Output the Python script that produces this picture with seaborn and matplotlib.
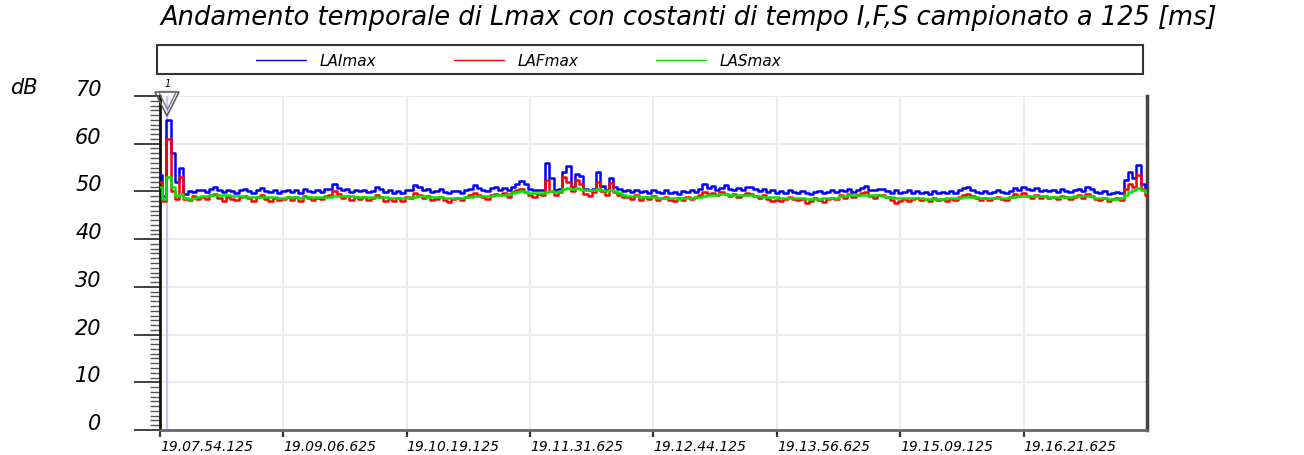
import numpy as np
import pandas as pd
import matplotlib
matplotlib.use("Agg")
import matplotlib.pyplot as plt
import matplotlib.transforms as mtransforms
from matplotlib.lines import Line2D
from matplotlib.patches import Rectangle
from matplotlib.ticker import MultipleLocator
import seaborn as sns

# sampling every 2.5 s, starting at 19.07.54.125
t_step = 2.5
cursor_t = 4.4

lai_max = [
    53.5, 49.0, 65.0, 58.0, 52.0, 55.0, 49.5, 50.0, 49.8, 50.2,
    50.3, 49.9, 50.6, 50.9, 50.2, 49.8, 50.4, 50.0, 49.7, 50.3,
    50.6, 50.1, 49.7, 50.4, 50.8, 50.0, 49.8, 50.3, 49.6, 50.0,
    50.4, 49.9, 50.2, 49.7, 50.5, 50.1, 49.8, 50.3, 49.9, 50.6,
    50.5, 51.6, 50.8, 50.2, 50.6, 49.9, 50.4, 50.0, 50.3, 49.8,
    50.1, 50.9, 50.6, 49.8, 50.2, 49.7, 50.0, 49.6, 50.4, 50.2,
    51.3, 50.9, 50.2, 50.5, 49.8, 50.1, 50.6, 49.9, 49.7, 50.0,
    50.0, 49.7, 50.3, 50.6, 51.3, 50.8, 50.4, 50.1, 50.7, 50.9,
    50.4, 50.8, 50.3, 51.0, 51.5, 52.2, 51.5, 50.6, 50.2, 50.4,
    50.3, 56.0, 52.8, 50.4, 50.6, 54.0, 55.3, 51.0, 53.6, 53.2,
    50.5, 50.2, 50.6, 54.0, 51.2, 50.4, 52.8, 51.0, 50.6, 50.0,
    50.2, 49.8, 50.4, 49.9, 50.1, 49.6, 50.3, 49.8, 49.7, 50.2,
    49.7, 49.9, 49.5, 50.1, 49.8, 50.2, 49.9, 50.6, 51.5, 50.8,
    51.2, 50.4, 50.8, 51.3, 50.5, 50.2, 50.7, 50.3, 50.9, 51.0,
    50.5, 50.0, 50.6, 49.8, 50.2, 49.6, 50.1, 49.7, 50.3, 49.9,
    49.6, 50.0, 49.7, 49.5, 49.9, 50.1, 49.6, 49.8, 50.2, 49.9,
    50.4, 50.0, 50.6, 49.9, 50.3, 50.8, 51.1, 50.4, 50.2, 50.5,
    50.6, 50.1, 49.7, 50.4, 49.6, 49.8, 50.2, 49.7, 50.0, 49.6,
    49.8, 49.5, 50.0, 49.6, 49.9, 49.7, 50.1, 49.6, 50.3, 50.8,
    50.9, 50.4, 49.9, 49.6, 50.0, 49.7, 49.9, 50.2, 49.8, 49.6,
    50.0, 50.8, 50.3, 50.9, 50.5, 50.2, 50.7, 50.0, 50.4, 50.1,
    50.3, 49.9, 50.5, 50.1, 49.8, 50.2, 50.6, 50.0, 50.9, 50.5,
    49.8, 49.6, 50.1, 49.5, 49.7, 49.9, 49.6, 52.5, 54.0, 52.8,
    55.6, 51.5, 50.2,
]

laf_max = [
    52.0, 48.0, 61.0, 50.0, 48.5, 53.0, 48.5, 48.2, 49.0, 48.4,
    48.9, 48.4, 49.2, 49.5, 48.6, 48.1, 48.9, 48.5, 48.2, 48.8,
    49.0, 48.6, 48.1, 48.9, 49.3, 48.4, 48.0, 48.7, 48.2, 48.5,
    48.8, 48.3, 48.9, 48.0, 49.1, 48.6, 48.2, 48.7, 48.4, 49.0,
    49.2, 50.0, 49.4, 48.6, 49.0, 48.3, 48.8, 48.4, 48.9, 48.2,
    48.6, 49.3, 48.9, 47.9, 48.5, 48.1, 48.6, 48.0, 48.8, 48.7,
    49.6, 49.3, 48.7, 49.0, 48.3, 48.5, 48.9, 48.2, 47.8, 48.4,
    48.6, 48.2, 48.9, 49.2, 49.7, 49.3, 48.8, 48.5, 49.2, 49.4,
    49.2, 49.6, 48.8, 49.8, 50.2, 50.5, 49.8, 49.2, 48.9, 49.4,
    49.2, 52.4, 50.0, 49.3, 49.8, 53.0, 52.0, 50.0, 52.4, 51.5,
    49.4, 49.0, 49.8, 52.0, 50.0, 49.3, 51.7, 49.8, 49.2, 48.8,
    48.8, 48.5, 49.3, 48.2, 48.9, 48.4, 49.0, 48.3, 48.6, 48.8,
    48.3, 47.9, 48.6, 48.2, 48.8, 48.4, 48.9, 49.3, 49.8, 49.5,
    49.6, 49.2, 49.8, 49.5, 49.0, 49.4, 48.9, 49.3, 49.6, 49.4,
    49.0, 48.6, 49.2, 48.4, 48.0, 48.3, 47.9, 48.5, 48.8, 48.4,
    48.2, 48.5, 47.6, 48.0, 48.6, 48.3, 47.8, 48.4, 48.7, 48.5,
    49.2, 48.7, 49.4, 48.8, 49.3, 49.6, 49.8, 49.0, 48.6, 49.2,
    49.3, 48.8, 48.2, 47.6, 48.0, 48.5, 48.1, 48.4, 48.7, 48.2,
    48.4, 48.0, 48.6, 48.2, 48.5, 47.9, 48.4, 48.3, 48.8, 49.3,
    49.4, 49.0, 48.6, 48.2, 48.7, 48.3, 48.6, 48.9, 48.4, 48.3,
    48.8, 49.4, 49.0, 49.6, 49.1, 48.7, 49.3, 48.6, 49.0, 48.7,
    48.9, 48.5, 49.1, 48.8, 48.4, 48.9, 49.2, 48.7, 49.4, 49.0,
    48.5, 48.2, 48.7, 48.1, 48.4, 48.6, 48.3, 50.5, 51.5, 51.0,
    53.4, 50.5, 49.2,
]

las_max = [
    51.0, 48.5, 53.0, 51.0, 49.0, 49.5, 48.6, 48.4, 48.7, 48.8,
    49.0, 49.1, 49.2, 49.3, 49.3, 49.2, 49.2, 49.1, 49.0, 49.0,
    48.9, 48.9, 48.8, 48.8, 48.9, 48.9, 48.8, 48.8, 48.7, 48.7,
    48.8, 48.8, 48.8, 48.7, 48.8, 48.8, 48.8, 48.8, 48.8, 48.9,
    48.9, 49.0, 49.1, 49.1, 49.0, 49.0, 48.9, 48.9, 48.9, 48.8,
    48.8, 48.8, 48.9, 48.8, 48.7, 48.7, 48.7, 48.6, 48.7, 48.8,
    48.9, 49.0, 49.0, 48.9, 48.9, 48.8, 48.8, 48.7, 48.6, 48.6,
    48.7, 48.7, 48.8, 48.9, 49.0, 49.1, 49.1, 49.0, 49.1, 49.2,
    49.2, 49.3, 49.4, 49.6, 49.8, 50.0, 49.9, 49.7, 49.6, 49.6,
    49.6, 49.9, 50.0, 49.8, 50.1, 50.5, 50.8, 50.6, 50.7, 50.5,
    50.4, 50.2, 50.3, 50.5, 50.3, 50.1, 50.2, 50.0, 49.6, 49.3,
    49.1, 49.0, 49.0, 48.9, 48.9, 48.8, 48.8, 48.7, 48.7, 48.7,
    48.6, 48.6, 48.5, 48.6, 48.7, 48.7, 48.8, 48.9, 49.1, 49.2,
    49.3, 49.3, 49.4, 49.4, 49.3, 49.3, 49.2, 49.2, 49.2, 49.2,
    49.0, 49.0, 48.9, 48.9, 48.8, 48.8, 48.7, 48.7, 48.7, 48.7,
    48.6, 48.6, 48.5, 48.5, 48.5, 48.5, 48.6, 48.6, 48.7, 48.7,
    49.1, 49.1, 49.2, 49.2, 49.3, 49.3, 49.3, 49.3, 49.2, 49.2,
    49.0, 48.9, 48.8, 48.7, 48.6, 48.6, 48.6, 48.6, 48.6, 48.6,
    48.5, 48.5, 48.5, 48.5, 48.5, 48.6, 48.6, 48.6, 48.7, 48.8,
    48.9, 48.9, 48.8, 48.7, 48.7, 48.7, 48.7, 48.7, 48.7, 48.7,
    48.8, 48.9, 49.0, 49.1, 49.1, 49.1, 49.1, 49.0, 49.0, 48.9,
    48.9, 48.9, 48.9, 48.9, 48.9, 49.0, 49.0, 49.0, 49.1, 49.1,
    48.7, 48.6, 48.6, 48.5, 48.5, 48.5, 48.6, 49.2, 49.8, 50.2,
    50.7, 50.3, 49.9,
]

series_names = ["LAImax", "LAFmax", "LASmax"]
series_colors = ["#0000ff", "#ff0000", "#00e600"]

x_ticks = [0, 72.5, 145, 217.5, 290, 362.5, 435, 507.5]
x_labels = ["19.07.54.125", "19.09.06.625", "19.10.19.125", "19.11.31.625",
            "19.12.44.125", "19.13.56.625", "19.15.09.125", "19.16.21.625"]
y_ticks = [0, 10, 20, 30, 40, 50, 60, 70]

title = "Andamento temporale di Lmax con costanti di tempo I,F,S campionato a 125 [ms]"

df = pd.DataFrame({
    "t": np.arange(len(lai_max)) * t_step,
    "LAImax": lai_max,
    "LAFmax": laf_max,
    "LASmax": las_max,
})

sns.set_style("white")
plt.rcParams["font.family"] = ["DejaVu Sans"]
plt.rcParams["text.color"] = "black"
plt.rcParams["xtick.labelcolor"] = "black"
plt.rcParams["ytick.labelcolor"] = "black"

fig = plt.figure(figsize=(13.04, 4.55), dpi=100)
ax = fig.add_axes([0.1227, 0.0549, 0.7569, 0.7341])

# cursor line
ax.axvline(cursor_t, color="#c4c4ff", lw=1.6, zorder=1)

for name, col in zip(series_names, series_colors):
    sns.lineplot(data=df, x="t", y=name, color=col, lw=1.8,
                 drawstyle="steps-mid", ax=ax, legend=False, zorder=3)

# cursor marker
ax.plot([cursor_t], [68.4], marker="v", ms=17, mfc="none", mec="#555555",
        mew=1.1, clip_on=False, zorder=6)
ax.plot([cursor_t], [69.2], marker="v", ms=13, mfc="none", mec="#777777",
        mew=1.0, clip_on=False, zorder=6)
ax.text(cursor_t, 72.6, "1", fontsize=7, style="italic", ha="center",
        va="center", clip_on=False)

ax.set_xlim(0, 580)
ax.set_ylim(0, 70)
ax.set_xlabel("")
ax.set_ylabel("")
ax.set_xticks(x_ticks)
ax.set_xticklabels(x_labels, fontsize=10, style="italic", ha="left")
ax.set_yticks(y_ticks)
ax.set_yticklabels([str(v) for v in y_ticks], fontsize=15, style="italic")
ax.yaxis.set_minor_locator(MultipleLocator(1))

ax.tick_params(axis="y", which="major", direction="out", left=True,
               length=19, width=1.3, color="#333333", pad=23)
ax.tick_params(axis="y", which="minor", direction="out", left=True,
               length=7, width=1.0, color="#555555")
ax.tick_params(axis="x", which="major", direction="out", bottom=True,
               length=5, width=1.6, color="#333333", pad=2)

ax.grid(True, which="major", color="#ececec", lw=1.5)
ax.set_axisbelow(True)

ax.spines["top"].set_visible(False)
ax.spines["left"].set_color("#111111")
ax.spines["left"].set_linewidth(2)
ax.spines["bottom"].set_color("#666666")
ax.spines["bottom"].set_linewidth(2)
ax.spines["right"].set_color("#444444")
ax.spines["right"].set_linewidth(2.5)

# y tick labels sit a bit above their ticks
shift = mtransforms.ScaledTranslation(0, 8 / 100, fig.dpi_scale_trans)
for tk in ax.yaxis.get_major_ticks():
    tk.label1.set_transform(tk.label1.get_transform() + shift)

# legend box
fig.patches.append(Rectangle((157 / 1304, 1 - 74 / 455), (1143 - 157) / 1304, 29 / 455,
                             transform=fig.transFigure, fill=False,
                             ec="#333333", lw=1.5))
handles = [Line2D([0], [0], color=c, lw=1.0) for c in series_colors]
fig.legend(handles, series_names, loc="center left",
           bbox_to_anchor=(242 / 1304, 1 - 61 / 455), ncol=3, frameon=False,
           prop={"size": 11, "style": "italic"}, handlelength=3.3,
           handletextpad=0.85, columnspacing=5.1)

fig.text(160 / 1304, 1 - 25 / 455, title, fontsize=18.5, style="italic",
         va="baseline", ha="left")
fig.text(10 / 1304, 1 - 88 / 455, "dB", fontsize=15, style="italic",
         va="center", ha="left")

fig.savefig("out.png", dpi=100)
